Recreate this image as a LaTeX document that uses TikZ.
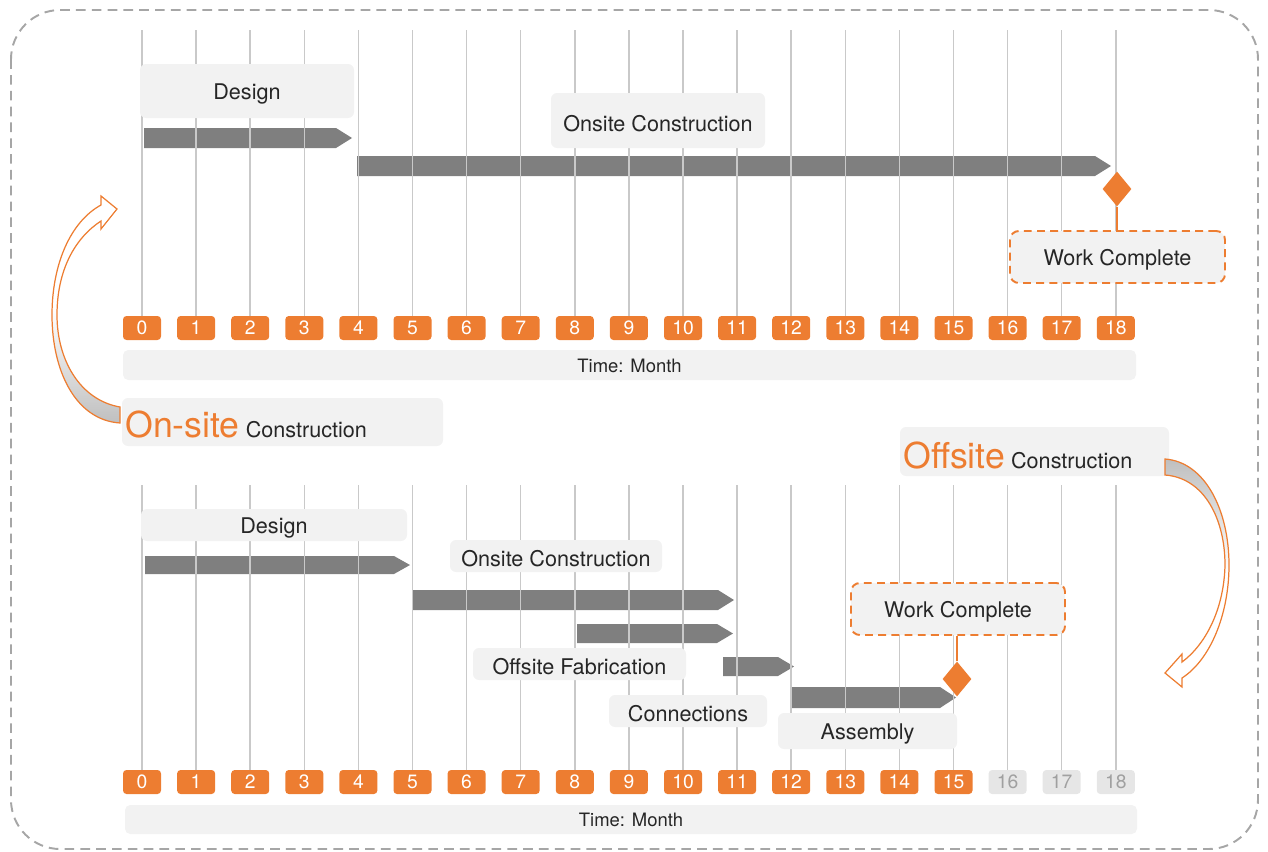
\documentclass[tikz,border=0pt]{standalone}
\usepackage{fontspec}
\setmainfont{TeX Gyre Heros}
\usepackage{xcolor}
\usepackage{tikz}
\usetikzlibrary{shapes.geometric,fit}
\definecolor{accent}{HTML}{ED7D31}
\definecolor{paper}{HTML}{F2F2F2}
\definecolor{barc}{HTML}{7F7F7F}
\definecolor{gridc}{HTML}{C9C9C9}
\definecolor{ink}{HTML}{262626}
\definecolor{offc}{HTML}{E6E6E6}
\definecolor{offtxt}{HTML}{A0A0A0}
\definecolor{framec}{HTML}{A6A6A6}
\def\px{0.02cm}
\def\gbar#1#2#3#4{\fill[barc] (#1,#3) -- (#2-16,#3) -- (#2,{(#3+#4)/2}) -- (#2-16,#4) -- (#1,#4) -- cycle}
\tikzstyle{lbltext}=[inner sep=0pt,yshift=-1.5pt,text=ink,font=\fontsize{12.3}{14}\selectfont]
\tikzstyle{lbl}=[fill=paper,rounded corners=3.5pt,inner sep=0pt]
\tikzstyle{done}=[lbl,draw=accent,line width=1.1pt,dash pattern=on 4.5pt off 3pt,rounded corners=5pt]
\tikzstyle{month}=[fill=accent,text=white,rounded corners=2pt,minimum width=38*\px,minimum height=24*\px,inner sep=0pt,font=\fontsize{11}{12}\selectfont]
\tikzstyle{monthoff}=[month,fill=offc,text=offtxt]
\tikzstyle{gridline}=[gridc,line width=0.85pt]
\tikzstyle{milestone}=[diamond,fill=accent,minimum width=29*\px,minimum height=35*\px,inner sep=0pt]
\tikzstyle{stem}=[accent,line width=1.2pt]
\tikzstyle{timebar}=[fill=paper,rounded corners=3pt,inner sep=0pt]
\tikzstyle{timetext}=[inner sep=0pt,yshift=-0.5pt,text=ink,font=\fontsize{10.5}{12}\selectfont]
\tikzstyle{swoop}=[draw=accent,line width=0.7pt]
\tikzstyle{headline}=[anchor=base west,inner sep=0pt,text=ink,font=\fontsize{12.3}{14}\selectfont]

\begin{document}
\begin{tikzpicture}[x=0.02cm,y=-0.02cm]
  \useasboundingbox (0,0) rectangle (1268,852);
  \draw[framec,line width=1.1pt,dash pattern=on 5.5pt off 3.5pt,rounded corners=28pt] (11,10) rectangle (1258,849);

  % on-site schedule
  \gbar{144}{352}{128}{148};
  \gbar{357}{1111}{156}{176};
  \foreach \i in {0,...,18}{
    \pgfmathsetmacro\xx{142+54.1*\i}
    \node[month] (t\i) at (\xx,328) {\i};
    \coordinate (tt\i) at (\xx,30);
    \draw[gridline] (tt\i) -- (t\i.north);
  }
  \node[lbl,fit={(140,64) (354,118)},label={[lbltext]center:Design}] (dsg1) {};
  \node[lbl,fit={(551,93) (765,148)},label={[lbltext]center:Onsite Construction}] (ons1) {};
  \node[done,fit={(1010,231) (1225,283)},label={[lbltext]center:Work Complete}] (wc1) {};
  \node[milestone] (dmd1) at (1117,189) {};
  \draw[stem] (dmd1.south) -- (dmd1.south |- wc1.north);
  \node[timebar,fit={(123,350) (1136,380)},label={[timetext]center:Time: Month}] (time1) {};

  % offsite schedule
  \gbar{145}{410}{556}{574};
  \gbar{413}{734}{590}{610};
  \gbar{577}{733}{624}{643};
  \gbar{723}{794}{657}{676};
  \gbar{791}{956}{687}{708};
  \foreach \i in {0,...,18}{
    \pgfmathsetmacro\xx{142+54.1*\i}
    \ifnum\i>15 \tikzset{cur/.style={monthoff}}\else\tikzset{cur/.style={month}}\fi
    \node[cur] (b\i) at (\xx,782) {\i};
    \coordinate (bb\i) at (\xx,485);
    \draw[gridline] (bb\i) -- (b\i.north);
  }
  \node[lbl,fit={(141,509) (407,541)},label={[lbltext]center:Design}] (dsg2) {};
  \node[lbl,fit={(450,540) (662,572)},label={[lbltext]center:Onsite Construction}] (ons2) {};
  \node[lbl,fit={(473,648) (686,680)},label={[lbltext]center:Offsite Fabrication}] (fab2) {};
  \node[lbl,fit={(609,695) (767,727)},label={[lbltext]center:Connections}] (con2) {};
  \node[lbl,fit={(778,713) (957,749)},label={[lbltext]center:Assembly}] (asm2) {};
  \node[done,fit={(851,583) (1065,635)},label={[lbltext]center:Work Complete}] (wc2) {};
  \node[milestone] (dmd2) at (957,679) {};
  \draw[stem] (dmd2.north) -- (dmd2.north |- wc2.south);
  \node[timebar,fit={(125,805) (1137,834)},label={[timetext]center:Time: Month}] (time2) {};

  % headings and swoops
  \node[lbl,fit={(122,398) (443,446)}] (onsite) {};
  \node[headline] (onsitetxt) at (125,437) {{\color{accent}\fontsize{20.3}{22}\selectfont On-site} Construction};
  \node[lbl,fit={(900,427) (1169,476)}] (offsite) {};
  \node[headline] (offsitetxt) at (903,468) {{\color{accent}\fontsize{20.3}{22}\selectfont Offsite} Construction};

  \draw[swoop,top color=white,bottom color=black!25,middle color=white]
    (120,407) .. controls (80,400) and (57,360) .. (57,315)
    .. controls (57,270) and (75,238) .. (101,221)
    -- (101,229) -- (117,209) -- (101,196) -- (101,205)
    .. controls (70,222) and (52,265) .. (52,315)
    .. controls (52,370) and (75,420) .. (120,423) -- cycle;
  \draw[swoop,top color=black!25,bottom color=white,middle color=white]
    (1165,459) .. controls (1205,462) and (1229,510) .. (1229,565)
    .. controls (1229,615) and (1210,660) .. (1182,678)
    -- (1182,687) -- (1165,673) -- (1182,654) -- (1182,662)
    .. controls (1205,645) and (1224,610) .. (1225,565)
    .. controls (1225,520) and (1205,478) .. (1165,475) -- cycle;
\end{tikzpicture}
\end{document}
